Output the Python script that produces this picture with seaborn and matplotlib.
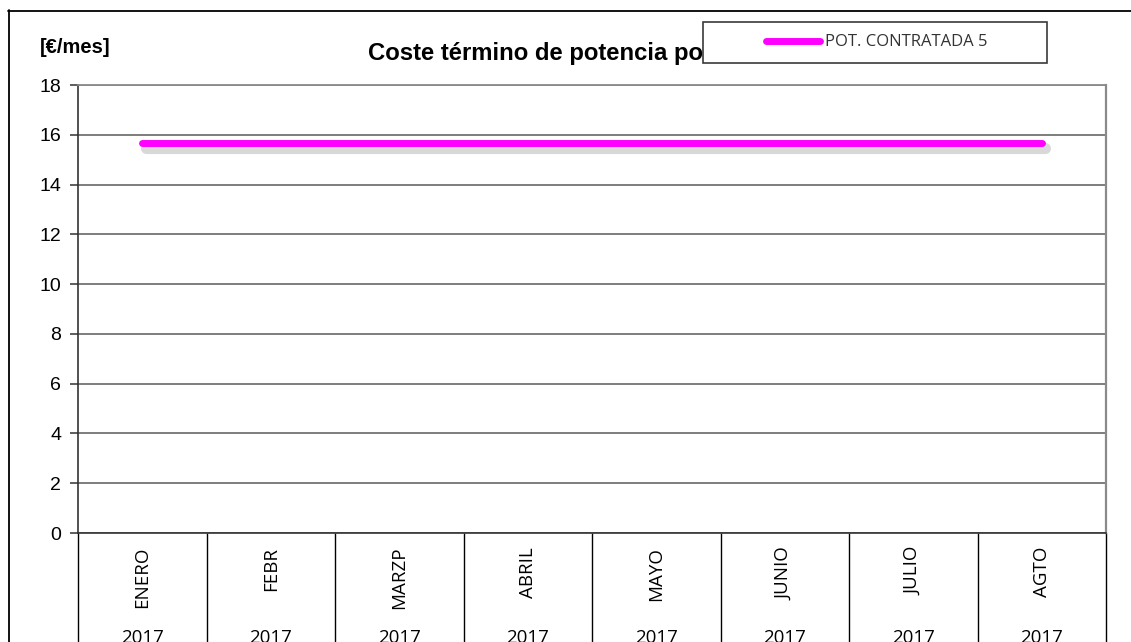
import matplotlib
matplotlib.use("Agg")
import matplotlib.pyplot as plt
import matplotlib.patheffects as pe
from matplotlib.patches import Rectangle
from matplotlib.lines import Line2D
import seaborn as sns
import pandas as pd

# ---- data ----
months = ["ENERO", "FEBR", "MARZP", "ABRIL", "MAYO", "JUNIO", "JULIO", "AGTO"]
years = ["2017"] * 8
coste = [15.67, 15.67, 15.67, 15.67, 15.67, 15.67, 15.67, 15.67]
series_name = "POT. CONTRATADA 5"
yticks = [0, 2, 4, 6, 8, 10, 12, 14, 16, 18]
title = "Coste término de potencia po"
unit_label = "[€/mes]"

sns.set_theme(style="white")
plt.rcParams["font.family"] = ["Liberation Sans", "DejaVu Sans"]

W, H = 1131, 642
fig = plt.figure(figsize=(W / 100, H / 100), dpi=100)
fig.patch.set_facecolor("white")

def fx(px):
    return px / W

def fy(py):
    return 1 - py / H

ax = fig.add_axes([fx(78), fy(533), fx(1106) - fx(78), fy(85) - fy(533)])
ax.set_facecolor("white")

df = pd.DataFrame({"mes": months, "coste": coste})
sns.lineplot(data=df, x="mes", y="coste", sort=False, ax=ax,
             color="#FF00FF", linewidth=5, solid_capstyle="round",
             label=series_name, legend=False)
line = ax.lines[0]
line.set_path_effects([pe.SimpleLineShadow(offset=(2.5, -3.5), shadow_color="#808080",
                                           alpha=0.3, linewidth=8),
                       pe.Normal()])
line.set_zorder(5)

ax.set_xlim(-0.5, len(months) - 0.5)
ax.set_ylim(0, 18)
ax.set_yticks(yticks)
ax.set_yticklabels([str(v) for v in yticks], fontsize=14, color="black")
ax.set_xlabel("")
ax.set_ylabel("")

# horizontal gridlines
ax.yaxis.grid(True, color="#5a5a5a", linewidth=1.1)
ax.xaxis.grid(False)
ax.set_axisbelow(True)

# spines
ax.spines["left"].set_color("#333333")
ax.spines["left"].set_linewidth(1.2)
ax.spines["bottom"].set_color("#333333")
ax.spines["bottom"].set_linewidth(1.2)
ax.spines["top"].set_color("#8a8a8a")
ax.spines["top"].set_linewidth(1.3)
ax.spines["right"].set_color("#8a8a8a")
ax.spines["right"].set_linewidth(1.6)

ax.tick_params(axis="y", which="major", direction="out", length=6, width=1.1,
               color="#333333", pad=6, left=True)

# x: month labels (rotated), separators as long minor ticks
ax.set_xticks(range(len(months)))
ax.set_xticklabels(months, rotation=90, fontsize=13.5, family="Open Sans", color="black")
ax.tick_params(axis="x", which="major", length=0, pad=10)
ax.set_xticks([i - 0.5 for i in range(len(months) + 1)], minor=True)
ax.tick_params(axis="x", which="minor", direction="out", length=85, width=1.0,
               color="black", bottom=True)

for i, yr in enumerate(years):
    ax.text(i, -0.215, yr, transform=ax.get_xaxis_transform(), ha="center", va="top",
            fontsize=13.5, family="Open Sans", color="black", clip_on=False)

# outer chart frame
fig.add_artist(Line2D([fx(8), 1.02], [fy(10.5), fy(10.5)], color="black", linewidth=1.3,
                      transform=fig.transFigure))
fig.add_artist(Line2D([fx(8.5), fx(8.5)], [fy(10), -0.02], color="black", linewidth=1.3,
                      transform=fig.transFigure))

# unit label and title
fig.text(fx(40), fy(53), unit_label, fontsize=14.5, fontweight="bold", ha="left",
         va="baseline", color="black")
fig.text(fx(368), fy(60), title, fontsize=17.2, fontweight="bold", ha="left",
         va="baseline", color="black", zorder=3)

# legend box
box = Rectangle((fx(703), fy(63)), fx(1047) - fx(703), fy(22) - fy(63),
                transform=fig.transFigure, facecolor="white", edgecolor="#3a3a3a",
                linewidth=1.2, zorder=6)
fig.add_artist(box)
handle = Line2D([], [], color="#FF00FF", linewidth=5, solid_capstyle="round")
leg = fig.legend([handle], [series_name], loc="center",
                 bbox_to_anchor=(fx(877), fy(42.5)), frameon=False,
                 prop={"family": "Open Sans", "size": 12}, handlelength=3.2,
                 handletextpad=0.35, borderpad=0)
leg.set_zorder(7)
for t in leg.get_texts():
    t.set_color("#333333")

fig.savefig("out.png", dpi=100, facecolor="white")
